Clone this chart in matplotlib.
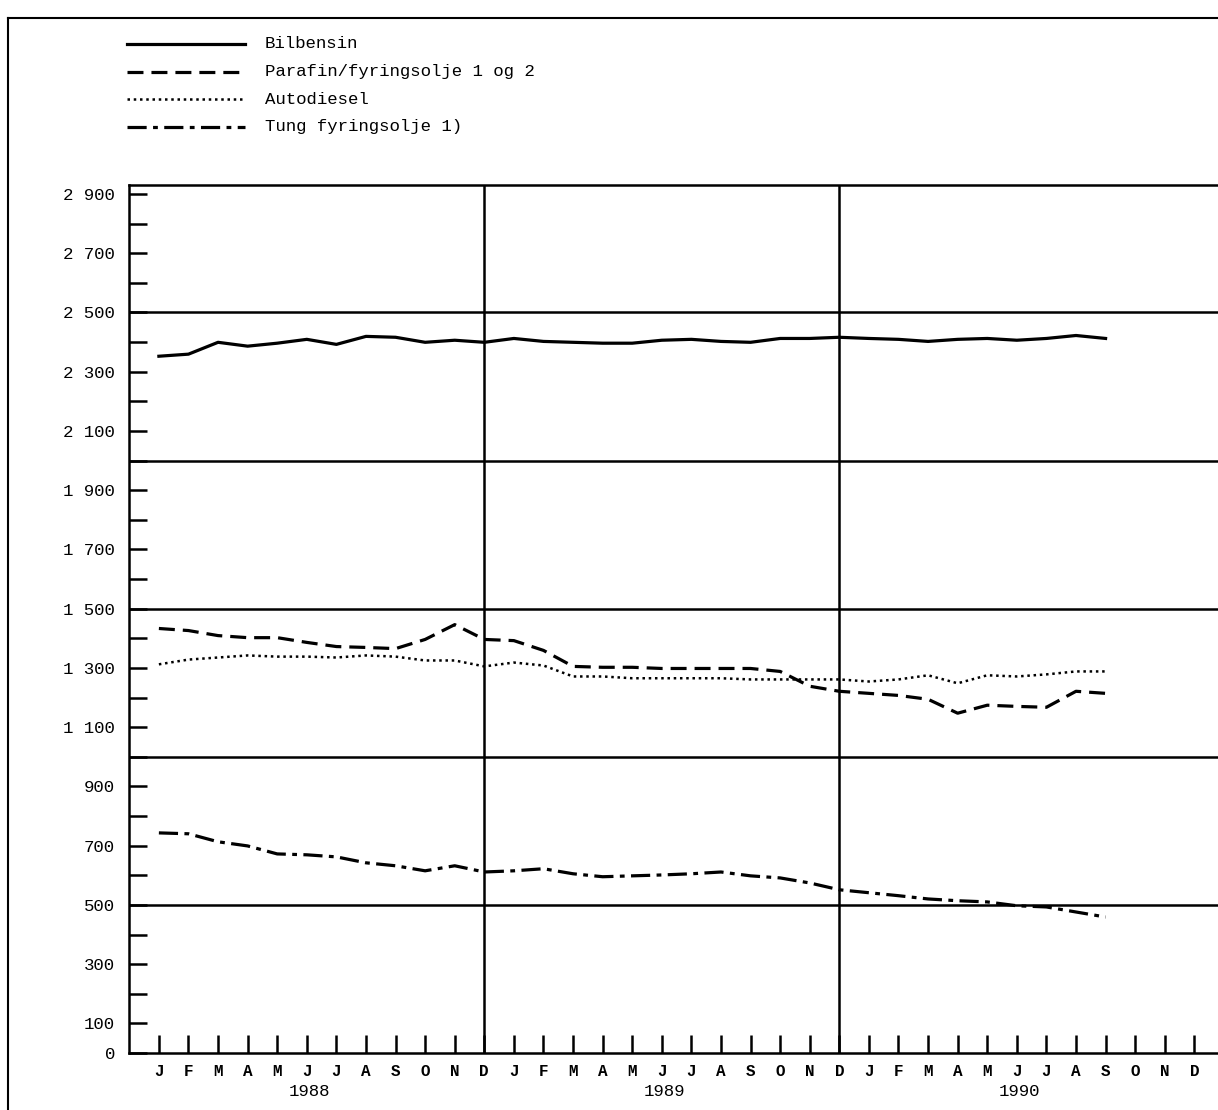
import matplotlib
matplotlib.use("Agg")
import matplotlib.pyplot as plt
from matplotlib.lines import Line2D

plt.rcParams["font.family"] = ["Liberation Mono", "DejaVu Sans Mono"]

months = list("JFMAMJJASOND") * 3
years = ["1988", "1989", "1990"]

bilbensin = [2352, 2359, 2399, 2386, 2396, 2409, 2392, 2419, 2416, 2399, 2406, 2399,
             2412, 2402, 2399, 2396, 2396, 2406, 2409, 2402, 2399, 2412, 2412, 2416,
             2412, 2409, 2402, 2409, 2412, 2406, 2412, 2422, 2412]
parafin = [1433, 1426, 1409, 1402, 1402, 1386, 1372, 1369, 1365, 1396, 1446, 1396,
           1392, 1359, 1305, 1302, 1302, 1298, 1298, 1298, 1298, 1288, 1238, 1221,
           1214, 1207, 1194, 1147, 1174, 1170, 1167, 1221, 1214]
autodiesel = [1312, 1328, 1335, 1342, 1338, 1338, 1335, 1342, 1338, 1325, 1325, 1305,
              1318, 1308, 1271, 1271, 1265, 1265, 1265, 1265, 1261, 1261, 1261, 1261,
              1254, 1261, 1275, 1248, 1275, 1271, 1278, 1288, 1288]
tung = [743, 740, 713, 699, 672, 669, 662, 642, 632, 615, 632, 611,
        615, 622, 605, 595, 598, 601, 605, 611, 598, 591, 574, 551,
        541, 531, 520, 514, 510, 497, 493, 476, 459]

W, H = 1218, 1110
fig = plt.figure(figsize=(W / 100, H / 100), dpi=100)
ax = fig.add_axes([129 / W, 1 - 1053 / H, (W - 129) / W, (1053 - 185) / H])

x = list(range(len(bilbensin)))
ax.plot(x, bilbensin, color="black", lw=2.3, ls="-")
ax.plot(x, parafin, color="black", lw=2.3, ls=(0, (5, 2.5)))
ax.plot(x, autodiesel, color="black", lw=1.8, ls=(0, (1, 1.5)))
ax.plot(x, tung, color="black", lw=2.3, ls=(0, (6, 2, 1.5, 2)))

ax.set_xlim(-1.01, 35.8)
ax.set_ylim(0, 2930)
for v in [500, 1000, 1500, 2000, 2500]:
    ax.axhline(v, color="black", lw=1.8)
for v in [11, 23]:
    ax.axvline(v, color="black", lw=1.8)

ax.set_xticks(range(36))
ax.set_xticklabels(months, fontsize=11.5, fontweight="bold")
yt = [0] + list(range(100, 3000, 200))
ax.set_yticks(yt)
ax.set_yticklabels(["0" if v == 0 else (f"{v // 1000} {v % 1000:03d}" if v >= 1000 else str(v)) for v in yt], fontsize=12.5)
ax.set_yticks(range(200, 3000, 200), minor=True)
ax.tick_params(axis="both", which="both", direction="in", length=13, width=1.8, colors="black")
ax.tick_params(axis="x", pad=8)
ax.tick_params(axis="y", pad=10)
for s in ["left", "bottom", "top"]:
    ax.spines[s].set_linewidth(1.8)
ax.spines["right"].set_visible(False)

for i, yr in enumerate(years):
    ax.text(5 + 12 * i + 0.1, -0.036, yr, transform=ax.get_xaxis_transform(),
            ha="center", va="top", fontsize=12.5)

# outer frame
fig.add_artist(Line2D([8 / W, 8 / W], [0, 1 - 18 / H], color="black", lw=1.5))
fig.add_artist(Line2D([8 / W, 1], [1 - 18 / H, 1 - 18 / H], color="black", lw=1.5))

# legend
leg = [("Bilbensin", "-", 2.3), ("Parafin/fyringsolje 1 og 2", (0, (5, 2.5)), 2.3),
       ("Autodiesel", (0, (1, 1.5)), 1.8), ("Tung fyringsolje 1)", (0, (6, 2, 1.5, 2)), 2.3)]
for i, (lab, ls, lw) in enumerate(leg):
    yy = 1 - (44 + i * 27.5) / H
    fig.add_artist(Line2D([127 / W, 245 / W], [yy, yy], color="black", lw=lw, ls=ls))
    fig.text(265 / W, yy, lab, fontsize=12.5, va="center", ha="left")

fig.savefig("out.png", dpi=100)
